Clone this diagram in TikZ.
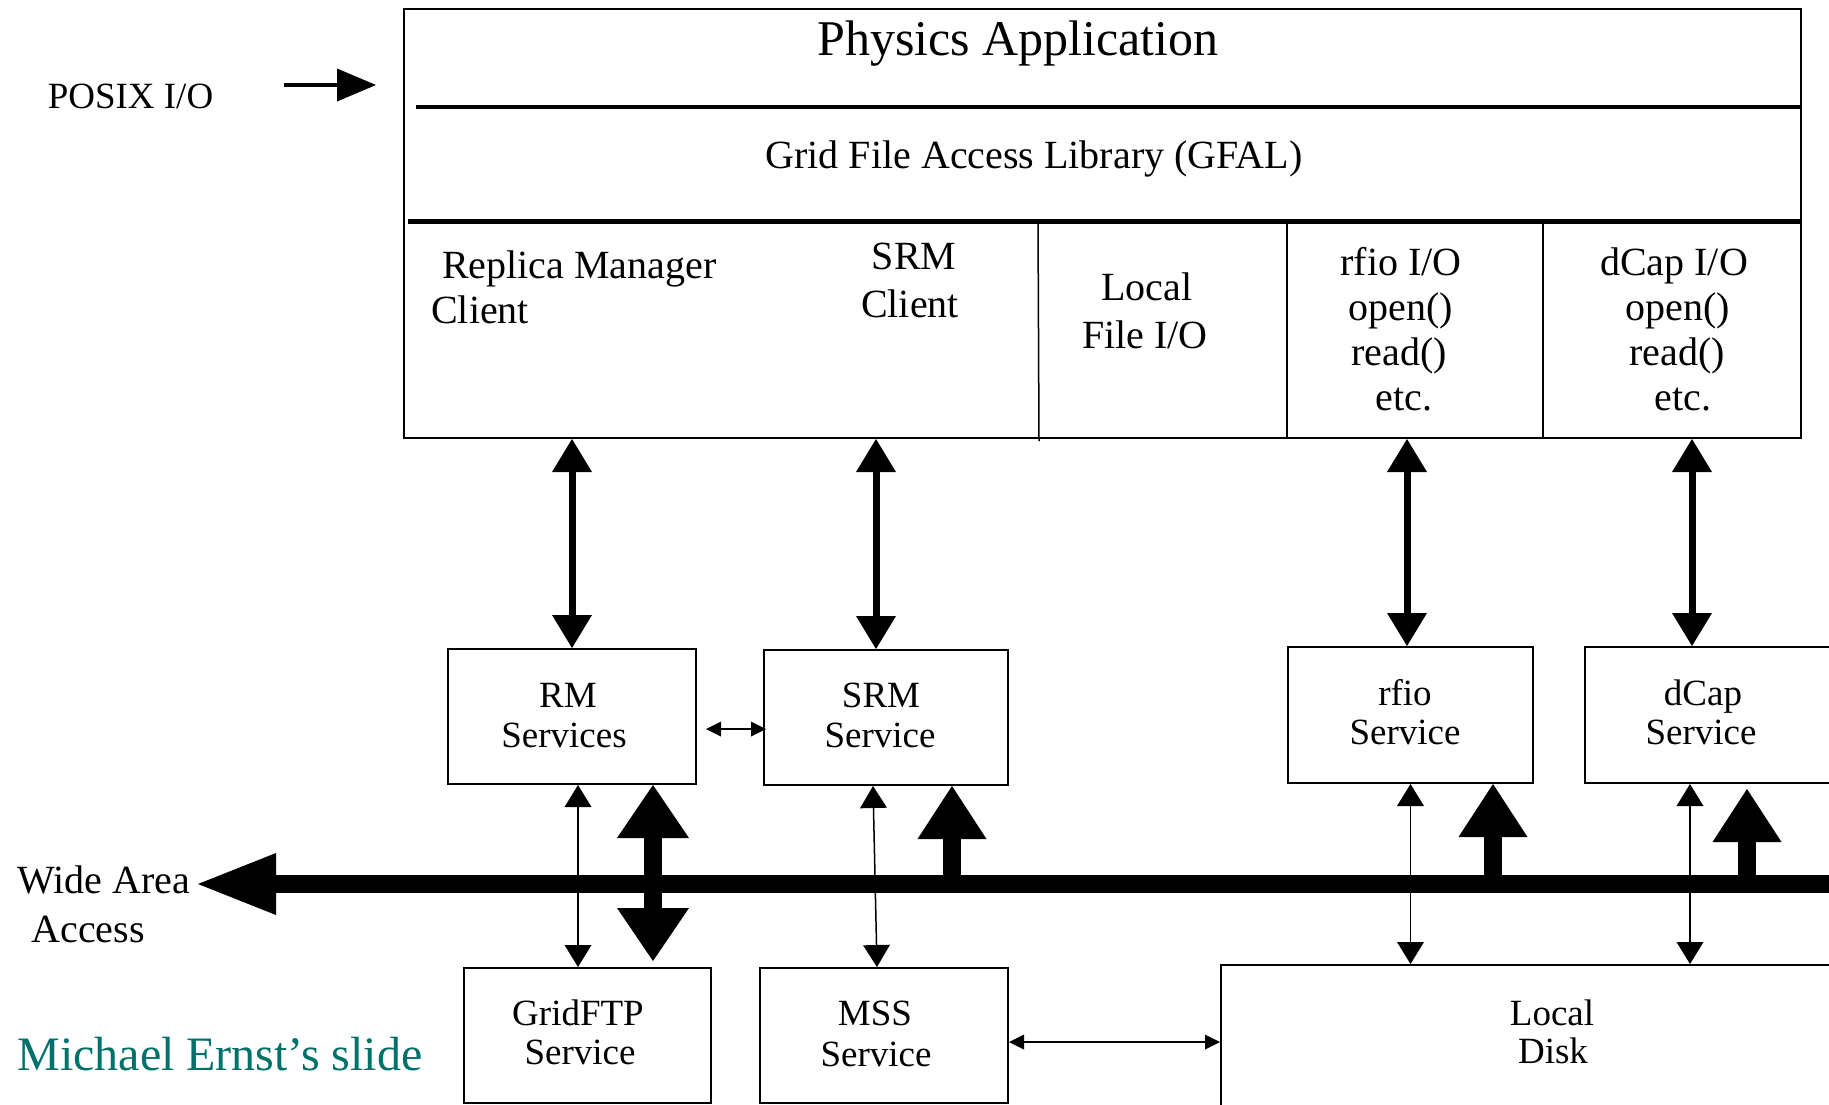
\documentclass[tikz,border=0pt]{standalone}
\usepackage{fontspec}
\setmainfont{Liberation Serif}
\usetikzlibrary{arrows.meta,calc}
\definecolor{slideteal}{RGB}{0,112,106}
\newcommand\bigtxt{\fontsize{50}{56}\selectfont}
\newcommand\midtxt{\fontsize{40}{45}\selectfont}
\newcommand\svctxt{\fontsize{37}{40}\selectfont}
\newcommand\sigtxt{\fontsize{48}{54}\selectfont}
\begin{document}
\begin{tikzpicture}[x=1pt,y=-1pt,
  box/.style={draw, line width=2pt, inner sep=0pt},
  txt/.style={anchor=base, inner sep=0pt},
  fatlink/.style={line width=7pt,
    arrows={Triangle[length=33pt,width=40pt,line width=0pt]-Triangle[length=33pt,width=40pt,line width=0pt]}},
  thinlink/.style={line width=1.5pt,
    arrows={Triangle[length=22pt,width=27pt,line width=0pt]-Triangle[length=22pt,width=27pt,line width=0pt]}},
  smalllink/.style={line width=2pt,
    arrows={Triangle[length=15pt,width=15pt,line width=0pt]-Triangle[length=15pt,width=15pt,line width=0pt]}},
  busline/.style={line width=18pt, arrows={-Triangle[length=78pt,width=62pt,line width=0pt]}},
  busup/.style={line width=18pt, arrows={-Triangle[length=53pt,width=69pt,line width=0pt]}},
  busboth/.style={line width=18pt,
    arrows={Triangle[length=53pt,width=72pt,line width=0pt]-Triangle[length=53pt,width=72pt,line width=0pt]}},
  posixarrow/.style={line width=4pt, arrows={-Triangle[length=39pt,width=33pt,line width=0pt]}}]

\useasboundingbox (0,0) rectangle (1829,1104);
\fill[white] (0,0) rectangle (1829,1104);
\clip (0,0) rectangle (1829,1104);

% ---- application stack ----
\node[box, minimum width=1397pt, minimum height=429pt] (app) at (1102.5,223.5) {};
\draw[line width=4.5pt] (416,107) -- (1801,107);
\draw[line width=5pt] (408,221) -- (1801,221);
\draw[line width=1.5pt] (1038,221) -- (1039,441);
\draw[line width=2.5pt] (1287,221) -- (1287,438);
\draw[line width=2.5pt] (1543,221) -- (1543,438);

\node[txt, font=\bigtxt] (phys) at (1018,55) {Physics Application};
\node[txt, font=\midtxt] (gfal) at (1034,168) {Grid File Access Library (GFAL)};

\node[txt, font=\midtxt, anchor=base west] (rmcA) at (442,278) {Replica Manager};
\node[txt, font=\midtxt, anchor=base west] (rmcB) at (431,323) {Client};
\node[txt, font=\midtxt] (srmcA) at (914,269) {SRM};
\node[txt, font=\midtxt] (srmcB) at (910,317) {Client};
\node[txt, font=\midtxt] (lfioA) at (1147,300) {Local};
\node[txt, font=\midtxt] (lfioB) at (1145,348) {File I/O};
\node[txt, font=\midtxt] (rfioA) at (1401,275) {rfio I/O};
\node[txt, font=\midtxt] (rfioB) at (1401,320) {open()};
\node[txt, font=\midtxt] (rfioC) at (1399,365) {read()};
\node[txt, font=\midtxt] (rfioD) at (1404,410) {etc.};
\node[txt, font=\midtxt] (dcapA) at (1674,275) {dCap I/O};
\node[txt, font=\midtxt] (dcapB) at (1678,320) {open()};
\node[txt, font=\midtxt] (dcapC) at (1677,365) {read()};
\node[txt, font=\midtxt] (dcapD) at (1683,410) {etc.};

\node[txt, font=\svctxt] (posix) at (130.5,108) {POSIX I/O};
\coordinate (posixtail) at (284,85);
\coordinate (posixtip) at (376,85);
\draw[posixarrow] (posixtail) -- (posixtip);

% ---- services ----
\node[box, minimum width=248pt, minimum height=135pt] (rmsvc) at (572,716.5) {};
\node[box, minimum width=244pt, minimum height=135pt] (srmsvc) at (886,717.5) {};
\node[box, minimum width=245pt, minimum height=136pt] (rfiosvc) at (1410.5,715) {};
\node[box, minimum width=255pt, minimum height=136pt] (dcapsvc) at (1712.5,715) {};
\node[box, minimum width=247pt, minimum height=135pt] (gridftp) at (587.5,1035.5) {};
\node[box, minimum width=248pt, minimum height=135pt] (mss) at (884,1035.5) {};
\node[box, minimum width=619pt, minimum height=150pt] (disk) at (1530.5,1040) {};

\node[txt, font=\svctxt] (rmA) at (568,707) {RM};
\node[txt, font=\svctxt] (rmB) at (564,747) {Services};
\node[txt, font=\svctxt] (srmA) at (881,707) {SRM};
\node[txt, font=\svctxt] (srmB) at (880,747) {Service};
\node[txt, font=\svctxt] (rfsA) at (1405,705) {rfio};
\node[txt, font=\svctxt] (rfsB) at (1405,744) {Service};
\node[txt, font=\svctxt] (dcsA) at (1703,705) {dCap};
\node[txt, font=\svctxt] (dcsB) at (1701,744) {Service};
\node[txt, font=\svctxt] (gfA) at (578,1025) {GridFTP};
\node[txt, font=\svctxt] (gfB) at (580,1064) {Service};
\node[txt, font=\svctxt] (msA) at (875,1025) {MSS};
\node[txt, font=\svctxt] (msB) at (876,1066) {Service};
\node[txt, font=\svctxt] (dkA) at (1552,1025) {Local};
\node[txt, font=\svctxt] (dkB) at (1553,1063) {Disk};

% ---- wide area bus ----
\coordinate (busend) at (1840,884);
\coordinate (bustip) at (198,884);
\draw[busline] (busend) -- (bustip);
\node[txt, font=\midtxt] (wideA) at (104,893) {Wide Area};
\node[txt, font=\midtxt] (wideB) at (88,942) {Access};
\node[txt, font=\sigtxt, text=slideteal] (credit) at (220,1070) {Michael Ernst’s slide};

% ---- library to service links ----
\coordinate (rmtop) at (rmsvc.north);
\draw[fatlink] (rmtop |- app.south) -- (rmtop);
\coordinate (srmtop) at ([xshift=-10pt]srmsvc.north);
\draw[fatlink] (srmtop |- app.south) -- (srmtop);
\coordinate (rfiotop) at ([xshift=-3.5pt]rfiosvc.north);
\draw[fatlink] (rfiotop |- app.south) -- (rfiotop);
\coordinate (dcaptop) at ([xshift=-20.5pt]dcapsvc.north);
\draw[fatlink] (dcaptop |- app.south) -- (dcaptop);

% ---- service to storage links ----
\coordinate (rmbot) at ([xshift=6pt]rmsvc.south);
\draw[thinlink] (rmbot) -- (rmbot |- gridftp.north);
\draw[thinlink] ([xshift=-13pt]srmsvc.south) -- ([xshift=-7pt]mss.north);
\coordinate (rfiobot) at (rfiosvc.south);
\draw[thinlink] (rfiobot) -- (rfiobot |- disk.north);
\coordinate (dcapbot) at ([xshift=-22.5pt]dcapsvc.south);
\draw[thinlink] (dcapbot) -- (dcapbot |- disk.north);

\draw[smalllink] ($(rmsvc.east)+(9,12.5)$) -- ($(srmsvc.west)+(3,11.5)$);
\coordinate (mssside) at ($(mss.east)+(0,6.5)$);
\draw[smalllink] (mssside) -- (mssside -| disk.west);

% ---- bus to service links ----
\coordinate (rmbus) at ([xshift=81pt]rmsvc.south);
\draw[busboth, shorten >=6pt] (rmbus) -- (rmbus |- gridftp.north);
\coordinate (srmbus) at ([xshift=66pt]srmsvc.south);
\draw[busup] (srmbus |- bustip) -- (srmbus);
\coordinate (rfiobus) at ([xshift=82.5pt]rfiosvc.south);
\draw[busup] (rfiobus |- bustip) -- (rfiobus);
\coordinate (dcapbus) at ([xshift=34.5pt]dcapsvc.south);
\draw[busup, shorten >=5pt] (dcapbus |- bustip) -- (dcapbus);
\end{tikzpicture}
\end{document}
